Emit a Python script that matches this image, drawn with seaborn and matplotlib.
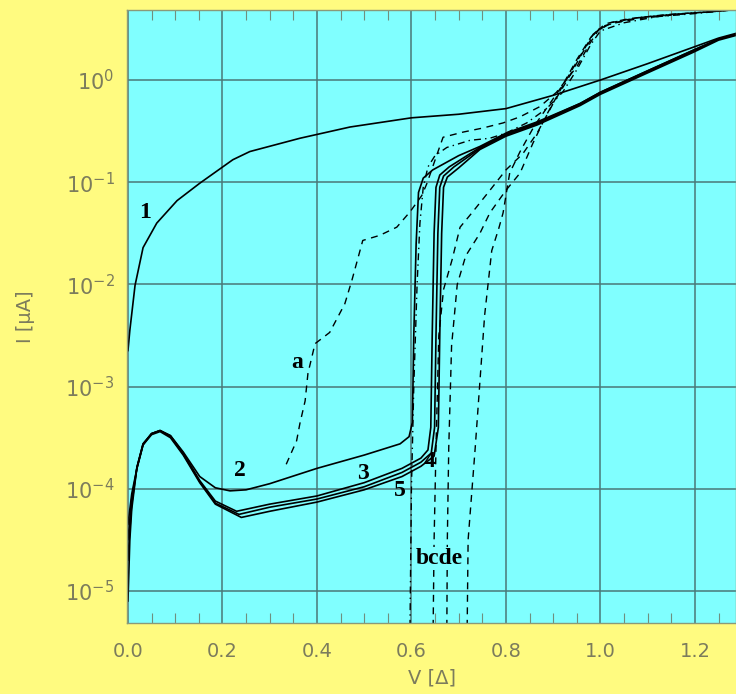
import numpy as np
import seaborn as sns
import matplotlib.pyplot as plt
from matplotlib.ticker import MultipleLocator, FixedLocator, NullLocator

# values: V in units of Delta, log10 of I in microamps
c1_v = [0.0, 0.004, 0.015, 0.032, 0.061, 0.104, 0.152, 0.222, 0.258, 0.364, 0.47,
        0.6, 0.7, 0.8, 0.9, 1.0, 1.1, 1.196, 1.25, 1.29]
c1_log = [-2.65, -2.45, -2.01, -1.64, -1.40, -1.18, -1.01, -0.78, -0.70, -0.57, -0.46,
          -0.37, -0.335, -0.28, -0.15, 0.0, 0.16, 0.32, 0.41, 0.46]

# shared start of the solid curves 2-5 (hump near V=0.07)
hump_v = [0.0, 0.004, 0.008, 0.019, 0.032, 0.05, 0.068, 0.09, 0.117, 0.152]
# shared end once the jumps have merged
tail_v = [0.80, 0.866, 0.957, 1.0, 1.1, 1.196, 1.25, 1.29]

c2_v = hump_v + [0.185, 0.216, 0.25, 0.30, 0.40, 0.50, 0.576, 0.595, 0.602, 0.605, 0.61,
                 0.615, 0.625, 0.645, 0.70, 0.745] + tail_v
c2_log = [-5.1, -4.5, -4.2, -3.79, -3.56, -3.46, -3.43, -3.48, -3.64, -3.88,
          -3.99, -4.02, -4.01, -3.95, -3.80, -3.67, -3.56, -3.49, -3.35, -2.5, -1.6,
          -1.1, -0.96, -0.88, -0.74, -0.65,
          -0.52, -0.41, -0.23, -0.12, 0.09, 0.29, 0.40, 0.45]

c3_v = hump_v + [0.185, 0.23, 0.30, 0.40, 0.50, 0.58, 0.62, 0.635, 0.641, 0.644, 0.648,
                 0.652, 0.66, 0.68, 0.745] + tail_v
c3_log = [-4.7, -4.4, -4.15, -3.79, -3.56, -3.46, -3.43, -3.48, -3.65, -3.92,
          -4.12, -4.22, -4.15, -4.07, -3.94, -3.80, -3.70, -3.62, -3.4, -2.5, -1.5,
          -1.05, -0.93, -0.85, -0.66,
          -0.53, -0.42, -0.23, -0.12, 0.09, 0.29, 0.40, 0.45]

c4_v = hump_v + [0.185, 0.235, 0.30, 0.40, 0.50, 0.58, 0.62, 0.642, 0.649, 0.652, 0.656,
                 0.66, 0.668, 0.69, 0.745] + tail_v
c4_log = [-4.5, -4.3, -4.1, -3.8, -3.57, -3.46, -3.43, -3.49, -3.66, -3.93,
          -4.14, -4.25, -4.18, -4.10, -3.98, -3.84, -3.74, -3.65, -3.4, -2.5, -1.5,
          -1.05, -0.94, -0.85, -0.67,
          -0.54, -0.43, -0.24, -0.13, 0.08, 0.28, 0.40, 0.45]

c5_v = hump_v + [0.185, 0.24, 0.30, 0.40, 0.50, 0.58, 0.62, 0.648, 0.657, 0.66, 0.664,
                 0.668, 0.676, 0.70, 0.745] + tail_v
c5_log = [-4.35, -4.2, -4.05, -3.8, -3.57, -3.47, -3.44, -3.5, -3.67, -3.94,
          -4.15, -4.28, -4.22, -4.13, -4.01, -3.88, -3.78, -3.68, -3.4, -2.5, -1.5,
          -1.05, -0.95, -0.86, -0.68,
          -0.55, -0.44, -0.25, -0.14, 0.07, 0.27, 0.39, 0.44]

ca_v = [0.335, 0.357, 0.364, 0.375, 0.381, 0.396, 0.427, 0.459, 0.474, 0.487, 0.497,
        0.533, 0.569, 0.597, 0.622, 0.633, 0.654, 0.667, 0.709, 0.751, 0.794, 0.83,
        0.872, 0.907, 0.95, 0.978, 1.0, 1.04, 1.08, 1.15, 1.24, 1.29]
ca_log = [-3.76, -3.53, -3.36, -3.14, -2.87, -2.58, -2.47, -2.19, -1.96, -1.74, -1.57,
          -1.52, -1.44, -1.29, -1.13, -1.01, -0.73, -0.56, -0.51, -0.47, -0.42, -0.36,
          -0.26, -0.12, 0.13, 0.36, 0.52, 0.57, 0.61, 0.64, 0.67, 0.69]

cb_v = [0.597, 0.600, 0.605, 0.612, 0.618, 0.625, 0.635, 0.65, 0.675, 0.724, 0.766,
        0.80, 0.844, 0.886, 0.92, 0.95, 0.98, 1.0, 1.05, 1.12, 1.2, 1.29]
cb_log = [-5.35, -4.0, -3.0, -2.0, -1.4, -1.05, -0.85, -0.74, -0.66, -0.59, -0.57,
          -0.52, -0.42, -0.28, -0.12, 0.1, 0.35, 0.48, 0.56, 0.62, 0.65, 0.69]

cc_v = [0.646, 0.648, 0.652, 0.658, 0.668, 0.686, 0.703, 0.728, 0.766, 0.80, 0.836,
        0.866, 0.9, 0.93, 0.96, 0.99, 1.02, 1.08, 1.16, 1.24, 1.29]
cc_log = [-5.35, -4.5, -3.6, -2.5, -2.05, -1.76, -1.44, -1.30, -1.08, -0.88, -0.72,
          -0.52, -0.23, 0.0, 0.25, 0.47, 0.55, 0.6, 0.64, 0.67, 0.69]

cd_v = [0.675, 0.676, 0.679, 0.685, 0.697, 0.715, 0.745, 0.766, 0.80, 0.83, 0.857,
        0.885, 0.915, 0.95, 0.985, 1.02, 1.08, 1.16, 1.24, 1.29]
cd_log = [-5.35, -4.5, -3.6, -2.6, -2.0, -1.72, -1.5, -1.3, -1.08, -0.91, -0.62,
          -0.35, -0.1, 0.18, 0.45, 0.56, 0.61, 0.645, 0.67, 0.69]

ce_v = [0.718, 0.72, 0.735, 0.755, 0.77, 0.785, 0.794, 0.808, 0.83, 0.86, 0.89,
        0.92, 0.95, 0.98, 1.01, 1.06, 1.14, 1.24, 1.29]
ce_log = [-5.35, -4.5, -3.6, -2.3, -1.67, -1.45, -1.3, -0.91, -0.7, -0.45, -0.25,
          -0.05, 0.2, 0.42, 0.55, 0.6, 0.64, 0.67, 0.69]

curve_labels = ["1", "2", "3", "4", "5", "a", "bcde"]
label_v = [0.036, 0.237, 0.497, 0.639, 0.576, 0.358, 0.66]
label_log = [-1.30, -3.82, -3.85, -3.73, -4.02, -2.76, -4.68]

y_ticks = [1e-5, 1e-4, 1e-3, 1e-2, 1e-1, 1e0]

yellow = "#FFFB80"
cyan = "#80FFFF"
txt = "#7c7c5c"
gridc = "#4a7878"

sns.set_style("ticks")
plt.rcParams["font.family"] = ["DejaVu Sans"]

fig = plt.figure(figsize=(7.36, 6.94), dpi=100, facecolor=yellow)
ax = fig.add_axes([127 / 736, 71 / 694, 609 / 736, 613 / 694])
ax.set_facecolor(cyan)

solid = [(c1_v, c1_log), (c2_v, c2_log), (c3_v, c3_log), (c4_v, c4_log), (c5_v, c5_log)]
for v, lg in solid:
    sns.lineplot(x=v, y=np.power(10.0, lg), sort=False, estimator=None,
                 color="black", lw=1.2, ax=ax, legend=False)

dashed = [(ca_v, ca_log), (cc_v, cc_log), (cd_v, cd_log), (ce_v, ce_log)]
for v, lg in dashed:
    sns.lineplot(x=v, y=np.power(10.0, lg), sort=False, estimator=None,
                 color="black", lw=1.0, linestyle=(0, (5, 4)), ax=ax, legend=False)

sns.lineplot(x=cb_v, y=np.power(10.0, cb_log), sort=False, estimator=None,
             color="black", lw=1.0, linestyle=(0, (5, 3, 1, 3)), ax=ax, legend=False)

ax.set_yscale("log")
ax.set_xlim(-0.002, 1.287)
ax.set_ylim(10 ** -5.313, 10 ** 0.685)

for lab, v, lg in zip(curve_labels, label_v, label_log):
    t = ax.text(v, 10 ** lg, lab, family="Liberation Serif", fontsize=17,
                fontweight="bold", ha="center", va="center", color="black")
    if lab == "bcde":
        t.set_bbox(dict(facecolor=cyan, edgecolor="none", pad=0.5))

ax.xaxis.set_major_locator(MultipleLocator(0.2))
ax.xaxis.set_minor_locator(MultipleLocator(0.05))
ax.yaxis.set_major_locator(FixedLocator(y_ticks))
ax.yaxis.set_minor_locator(NullLocator())
ax.grid(True, which="major", color=gridc, lw=1.3, alpha=0.85)
ax.tick_params(axis="x", which="both", direction="in", top=True, bottom=True,
               colors=txt, labelsize=14, pad=14)
ax.tick_params(axis="x", which="minor", length=7, width=0.8, color="#6f8f7f")
ax.tick_params(axis="x", which="major", length=0)
ax.tick_params(axis="y", which="major", direction="in", length=0,
               colors=txt, labelsize=15, pad=9)
for s in ax.spines.values():
    s.set_color("#8a9a7a")
    s.set_linewidth(1.0)

ax.set_xlabel("V [Δ]", color=txt, fontsize=14, labelpad=5)
ax.set_ylabel("I [μA]", color=txt, fontsize=14, labelpad=22)

fig.savefig("out.png", dpi=100, facecolor=yellow)
